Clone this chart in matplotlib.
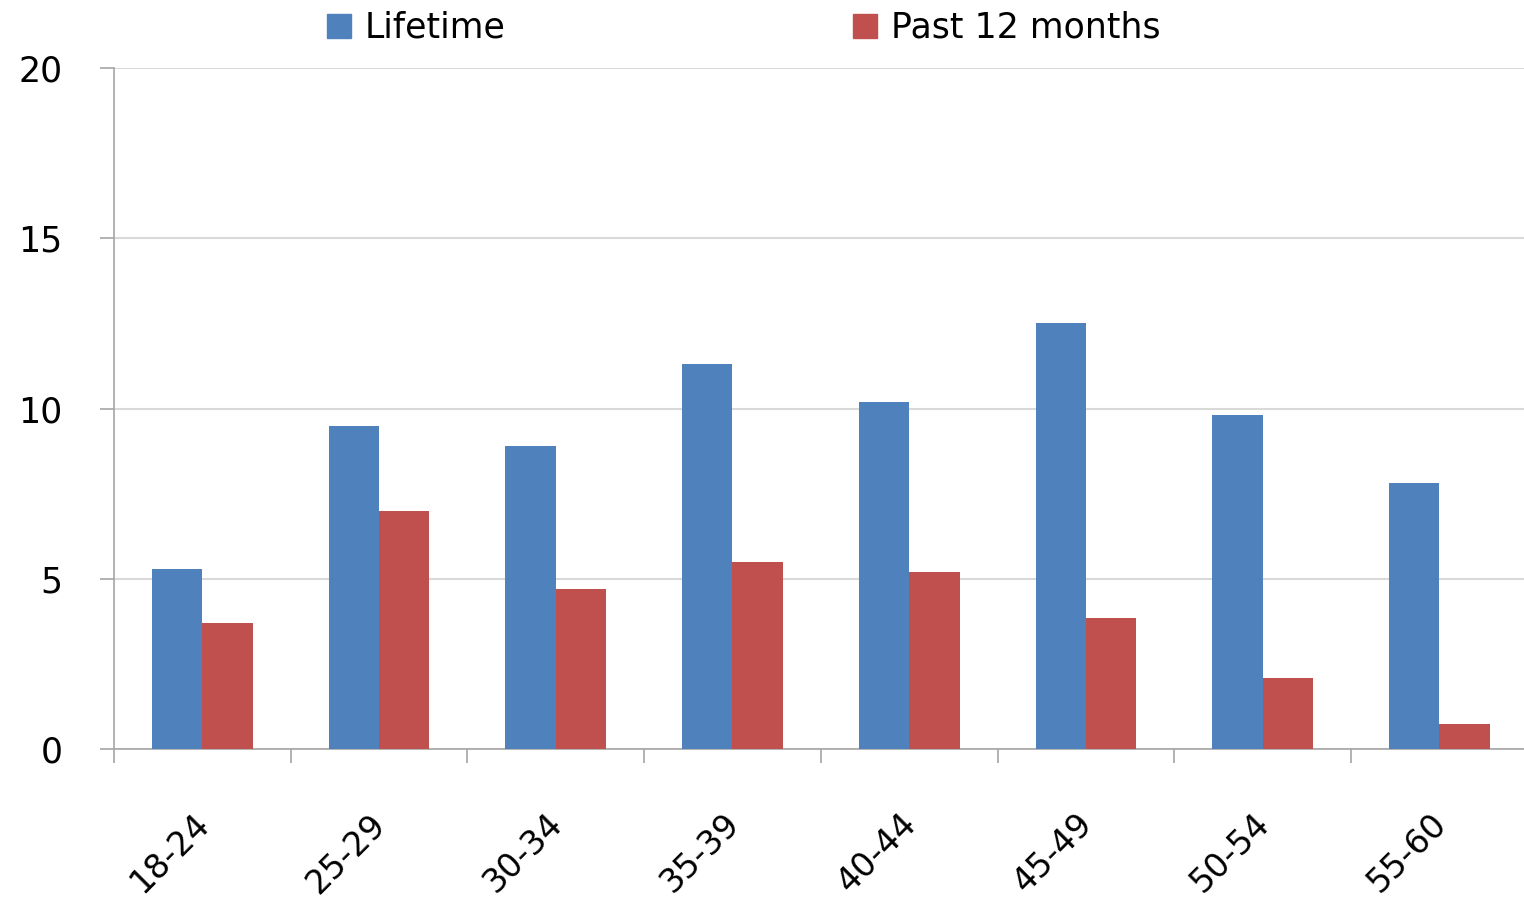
import numpy as np
import matplotlib.pyplot as plt
import matplotlib.transforms as mtransforms
from matplotlib.ticker import FixedLocator
from matplotlib.patches import Patch

# age groups and percentages
age_groups = ["18-24", "25-29", "30-34", "35-39", "40-44", "45-49", "50-54", "55-60"]
lifetime = [5.3, 9.5, 8.9, 11.3, 10.2, 12.5, 9.8, 7.8]
past_12_months = [3.7, 7.0, 4.7, 5.5, 5.2, 3.85, 2.1, 0.75]
y_ticks = [0, 5, 10, 15, 20]

blue = "#4F81BD"
red = "#C0504D"
fs = 25

plt.rcParams['font.family'] = ['DejaVu Sans']

fig = plt.figure(figsize=(15.24, 8.99), dpi=100)
ax = fig.add_axes([0.0748, 0.1668, 0.9276, 0.7576])

x = np.arange(len(age_groups))
w = 0.285
ax.bar(x - w / 2, lifetime, w, color=blue, zorder=3)
ax.bar(x + w / 2, past_12_months, w, color=red, zorder=3)

ax.set_xlim(-0.5, len(age_groups) - 0.5)
ax.set_ylim(0, 20)
ax.set_yticks(y_ticks)
ax.yaxis.grid(True, color="#D9D9D9", linewidth=1.5, zorder=0)

# category labels at centres, tick marks between categories
ax.set_xticks(x)
ax.set_xticklabels(age_groups, rotation=45, ha="right", va="top", rotation_mode="anchor")
ax.xaxis.set_minor_locator(FixedLocator(np.arange(len(age_groups)) - 0.5))
ax.tick_params(axis="x", which="major", length=0, pad=42, labelsize=24)
ax.tick_params(axis="x", which="minor", length=10, width=1.2, color="#A6A6A6")
ax.tick_params(axis="y", length=10, width=1.2, color="#A6A6A6", labelsize=fs, pad=27)
shift = mtransforms.ScaledTranslation(-0.1, 0, fig.dpi_scale_trans)
for lbl in ax.get_xticklabels():
    lbl.set_transform(lbl.get_transform() + shift)

for s in ["top", "right"]:
    ax.spines[s].set_visible(False)
ax.spines["left"].set_color("#A6A6A6")
ax.spines["bottom"].set_color("#A6A6A6")
ax.spines["left"].set_linewidth(1.2)
ax.spines["bottom"].set_linewidth(1.2)

# legend entries placed one by one along the top
for name, col, xpos in [("Lifetime", blue, 327 / 1524), ("Past 12 months", red, 853 / 1524)]:
    fig.legend(handles=[Patch(color=col, label=name)], loc="center left",
               bbox_to_anchor=(xpos, 0.969), frameon=False, fontsize=fs,
               borderpad=0, borderaxespad=0, handlelength=0.69, handleheight=0.69,
               handletextpad=0.4)

fig.savefig("out.png", dpi=100)
